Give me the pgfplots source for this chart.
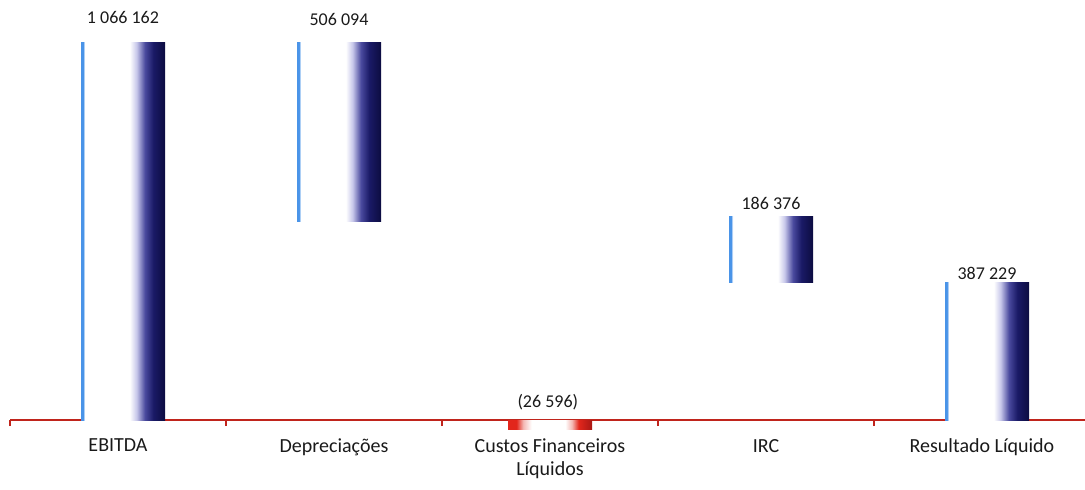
\documentclass[border=0pt]{standalone}
\usepackage{pgfplots}
\pgfplotsset{compat=1.18}
\usepackage{fontspec}
\setmainfont{Carlito}

\definecolor{barline}{HTML}{4A94E8}
\definecolor{lav}{HTML}{C8C8EA}
\definecolor{midnavy}{HTML}{4A4A9E}
\definecolor{navyA}{HTML}{1A1A66}
\definecolor{navyB}{HTML}{0C0C40}
\definecolor{redA}{HTML}{E2261C}
\definecolor{redB}{HTML}{A81814}
\definecolor{pinkA}{HTML}{F4B8B4}
\definecolor{axisred}{HTML}{C0241C}
\definecolor{txt}{HTML}{1A1A1A}

% bar shadings: thin blue edge on the left, white body, dark navy on the right
\pgfdeclarehorizontalshading{navybar}{100bp}{color(0bp)=(barline); color(25bp)=(barline); color(26.2bp)=(barline); color(27.2bp)=(white); color(54bp)=(white); color(58bp)=(lav); color(63bp)=(midnavy); color(68bp)=(navyA); color(75bp)=(navyB); color(100bp)=(navyB)}
\pgfdeclarehorizontalshading{redbar}{100bp}{color(0bp)=(redA); color(25bp)=(redA); color(30bp)=(redA); color(34bp)=(pinkA); color(39bp)=(white); color(59bp)=(white); color(63bp)=(pinkA); color(67bp)=(redA); color(75bp)=(redB); color(100bp)=(redB)}

\begin{document}
\begin{tikzpicture}[x=1pt,y=1pt]
\useasboundingbox (0,0) rectangle (542.5,244.5);
\begin{axis}[
  at={(5pt,16.77pt)}, anchor=south west,
  scale only axis, width=540pt, height=212.73pt,
  xmin=-0.5, xmax=4.5, ymin=-100000, ymax=1100000,
  clip=false,
  axis x line=middle, axis y line=none,
  x axis line style={draw=axisred, line width=1.3pt, -},
  xtick={0,1,2,3,4},
  xticklabels={EBITDA, Depreciações, {Custos Financeiros\\Líquidos}, IRC, Resultado Líquido},
  major tick length=0pt,
  xticklabel style={align=center, text=txt, font=\fontsize{10}{11.5}\selectfont, anchor=north, yshift=-6pt},
  extra x ticks={-0.5,0.5,1.5,2.5,3.5,4.5},
  extra x tick labels={},
  extra x tick style={major tick length=3pt, xtick align=outside, tick style={draw=axisred, line width=0.8pt}},
]
% EBITDA
\addplot[shading=navybar, draw=none] coordinates {(-0.171,0) (0.218,0) (0.218,1066162) (-0.171,1066162)} -- cycle;
% Depreciacoes (floating, 1066162 - 506094 = 560068)
\addplot[shading=navybar, draw=none] coordinates {(0.829,560068) (1.218,560068) (1.218,1066162) (0.829,1066162)} -- cycle;
% Custos financeiros liquidos
\addplot[shading=redbar, draw=none] coordinates {(1.806,0) (2.195,0) (2.195,-26596) (1.806,-26596)} -- cycle;
% IRC (floating, 387229 + 186376 = 573605)
\addplot[shading=navybar, draw=none] coordinates {(2.829,387229) (3.218,387229) (3.218,573605) (2.829,573605)} -- cycle;
% Resultado liquido
\addplot[shading=navybar, draw=none] coordinates {(3.829,0) (4.218,0) (4.218,387229) (3.829,387229)} -- cycle;

\begin{scope}[every node/.style={anchor=base, text=txt, font=\fontsize{9}{10}\selectfont, inner sep=0pt}]
\node[yshift=9.5pt] at (axis cs:0.023,1066162) {1 066 162};
\node[yshift=8.5pt] at (axis cs:1.023,1066162) {506 094};
\node[yshift=6.5pt] at (axis cs:1.99,0) {(26 596)};
\node[yshift=3.5pt] at (axis cs:3.023,573605) {186 376};
\node[yshift=1.5pt] at (axis cs:4.023,387229) {387 229};
\end{scope}
\end{axis}
\end{tikzpicture}
\end{document}
